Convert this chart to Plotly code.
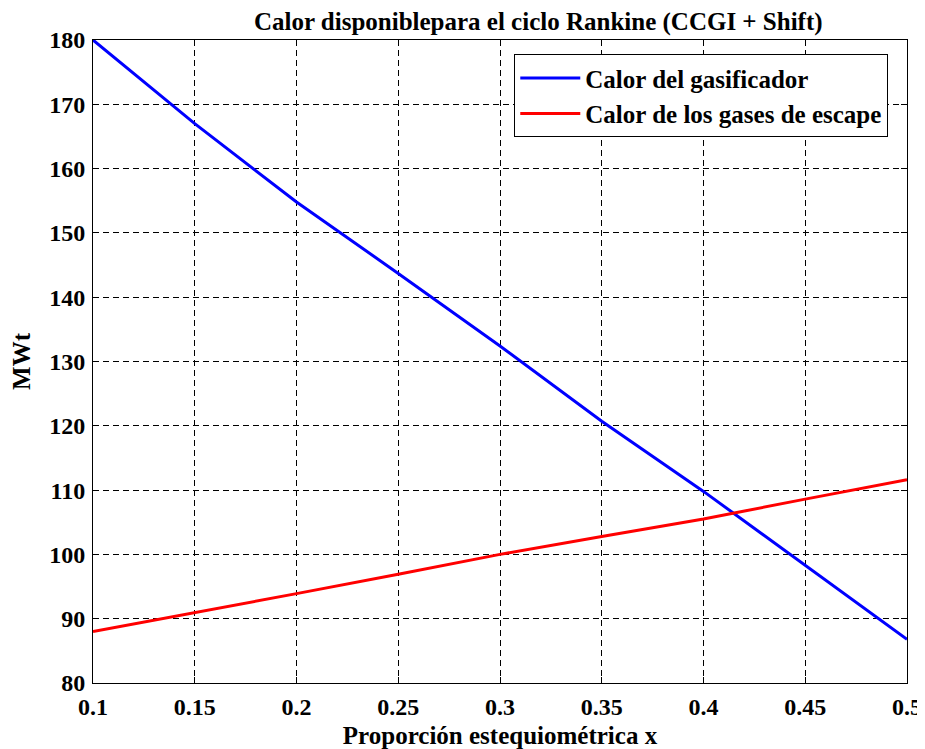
import plotly.graph_objects as go

x_vals = [0.1, 0.15, 0.2, 0.25, 0.3, 0.35, 0.4, 0.45, 0.5]
calor_gasificador = [180.0, 167.0, 154.8, 143.7, 132.4, 120.7, 109.8, 98.3, 86.8]
calor_escape = [88.0, 90.9, 93.9, 96.9, 100.0, 102.8, 105.5, 108.6, 111.6]

x_ticks = [0.1, 0.15, 0.2, 0.25, 0.3, 0.35, 0.4, 0.45, 0.5]
x_tick_labels = ["0.1", "0.15", "0.2", "0.25", "0.3", "0.35", "0.4", "0.45", "0.5"]
y_ticks = [80, 90, 100, 110, 120, 130, 140, 150, 160, 170, 180]

FONT = "Liberation Serif"

# page body has an 8px margin, so the figure is 8px smaller than the window
W, H = 917, 741

fig = go.Figure()
fig.add_trace(go.Scatter(x=x_vals, y=calor_gasificador, mode="lines",
                         name="Calor del gasificador",
                         line=dict(color="#0000ff", width=3)))
fig.add_trace(go.Scatter(x=x_vals, y=calor_escape, mode="lines",
                         name="Calor de los gases de escape",
                         line=dict(color="#ff0000", width=3)))

axis_common = dict(
    showline=True, linecolor="black", linewidth=1, mirror="ticks",
    ticks="inside", ticklen=6, tickcolor="black",
    showgrid=True, gridcolor="black", gridwidth=1, griddash="6px,4px",
    zeroline=False, automargin=True,
    tickfont=dict(family=FONT, size=24, color="black", weight="bold"),
)

fig.update_xaxes(range=[0.1, 0.5], tickvals=x_ticks, ticktext=x_tick_labels,
                 ticklabelstandoff=2,
                 title=dict(text="<b>Proporción estequiométrica x</b>",
                            font=dict(family=FONT, size=25, color="black"),
                            standoff=10),
                 **axis_common)
fig.update_yaxes(range=[80, 180], tickvals=y_ticks,
                 ticklabelstandoff=2,
                 title=dict(text="<b>MWt</b>",
                            font=dict(family=FONT, size=25, color="black"),
                            standoff=14),
                 **axis_common)

fig.update_layout(
    width=W, height=H,
    margin=dict(l=85, r=18, t=32, b=66, autoexpand=False),
    paper_bgcolor="white", plot_bgcolor="white",
    title=dict(text="<b>Calor disponiblepara el ciclo Rankine (CCGI + Shift)</b>",
               font=dict(family=FONT, size=25, color="black"),
               x=0.547, xanchor="center", xref="paper",
               y=1 - 13 / H, yanchor="middle", yref="container",
               automargin=False),
    legend=dict(x=0.977, xanchor="right", y=0.978, yanchor="top",
                bordercolor="black", borderwidth=1, bgcolor="white",
                font=dict(family=FONT, size=25, color="black", weight="bold"),
                tracegroupgap=0, itemwidth=60),
    showlegend=True,
)

fig.write_html("out.html")
